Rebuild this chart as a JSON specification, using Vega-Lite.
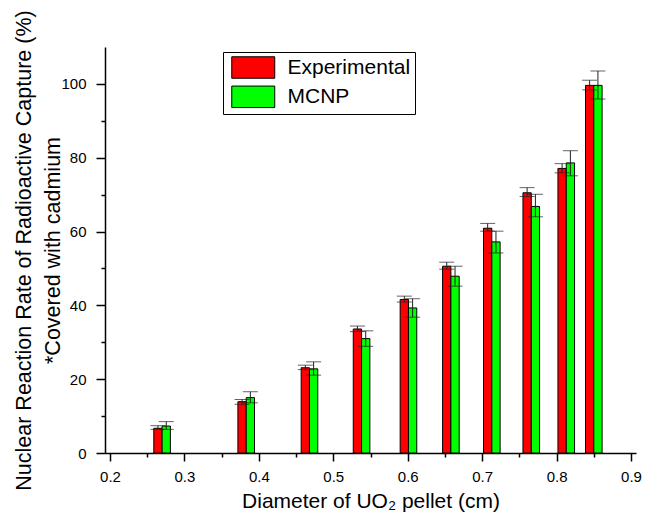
{
  "$schema": "https://vega.github.io/schema/vega-lite/v6.json",
  "width": 531,
  "height": 406,
  "autosize": {"type": "none"},
  "padding": {"left": 105, "top": 47, "right": 21, "bottom": 61},
  "background": "white",
  "config": {
    "view": {"stroke": null},
    "font": "Liberation Sans",
    "axis": {"labelFont": "Liberation Sans", "titleFont": "Liberation Sans", "labelColor": "black", "titleColor": "black", "titleFontWeight": "normal", "domainColor": "black", "tickColor": "black", "domainWidth": 1.5, "tickWidth": 1.5, "grid": false}
  },
  "data": {
    "values": [
      {"d": 0.270, "series": "Experimental", "value": 6.7, "lo": 6.4, "hi": 7.4},
      {"d": 0.270, "series": "MCNP", "value": 7.3, "lo": 6.4, "hi": 8.5},
      {"d": 0.383, "series": "Experimental", "value": 13.9, "lo": 13.2, "hi": 14.5},
      {"d": 0.383, "series": "MCNP", "value": 15.0, "lo": 13.6, "hi": 16.6},
      {"d": 0.468, "series": "Experimental", "value": 23.1, "lo": 22.6, "hi": 23.8},
      {"d": 0.468, "series": "MCNP", "value": 22.8, "lo": 21.1, "hi": 24.7},
      {"d": 0.538, "series": "Experimental", "value": 33.6, "lo": 32.9, "hi": 34.4},
      {"d": 0.538, "series": "MCNP", "value": 31.0, "lo": 28.9, "hi": 33.1},
      {"d": 0.601, "series": "Experimental", "value": 41.6, "lo": 40.9, "hi": 42.5},
      {"d": 0.601, "series": "MCNP", "value": 39.3, "lo": 36.8, "hi": 41.8},
      {"d": 0.658, "series": "Experimental", "value": 50.6, "lo": 49.8, "hi": 51.7},
      {"d": 0.658, "series": "MCNP", "value": 47.9, "lo": 45.2, "hi": 50.6},
      {"d": 0.713, "series": "Experimental", "value": 60.9, "lo": 60.1, "hi": 62.2},
      {"d": 0.713, "series": "MCNP", "value": 57.2, "lo": 54.2, "hi": 60.1},
      {"d": 0.766, "series": "Experimental", "value": 70.5, "lo": 69.5, "hi": 71.9},
      {"d": 0.766, "series": "MCNP", "value": 66.8, "lo": 64.0, "hi": 70.1},
      {"d": 0.813, "series": "Experimental", "value": 77.1, "lo": 75.9, "hi": 78.4},
      {"d": 0.813, "series": "MCNP", "value": 78.6, "lo": 75.1, "hi": 81.9},
      {"d": 0.850, "series": "Experimental", "value": 99.6, "lo": 98.4, "hi": 101.0},
      {"d": 0.850, "series": "MCNP", "value": 99.6, "lo": 95.9, "hi": 103.5}
    ]
  },
  "encoding": {
    "x": {
      "field": "d", "type": "quantitative",
      "scale": {"domain": [0.2, 0.9], "nice": false, "zero": false},
      "axis": {
        "title": "Diameter of UO₂ pellet (cm)",
        "titleFontSize": 21, "titlePadding": 6,
        "values": [0.2, 0.25, 0.3, 0.35, 0.4, 0.45, 0.5, 0.55, 0.6, 0.65, 0.7, 0.75, 0.8, 0.85, 0.9],
        "labelExpr": "round(datum.value*100) % 10 == 0 ? format(datum.value, '.1f') : ''",
        "labelFontSize": 15, "labelPadding": 8, "labelFlush": false,
        "tickSize": {"condition": {"test": "round(datum.value*100) % 10 == 0", "value": 8}, "value": 4}
      }
    },
    "y": {
      "field": "value", "type": "quantitative",
      "scale": {"domain": [0, 110], "nice": false},
      "axis": {
        "title": ["Nuclear Reaction Rate of Radioactive Capture (%)", "*Covered with cadmium"],
        "titleFontSize": 21.5, "titleLineHeight": 29, "titleX": -70,
        "values": [0, 10, 20, 30, 40, 50, 60, 70, 80, 90, 100],
        "labelExpr": "datum.value % 20 == 0 ? datum.label : ''",
        "labelFontSize": 15, "labelPadding": 10, "labelFlush": false,
        "tickSize": {"condition": {"test": "datum.value % 20 == 0", "value": 9}, "value": 4}
      }
    }
  },
  "layer": [
    {
      "transform": [{"filter": "datum.series == 'Experimental'"}],
      "mark": {"type": "bar", "size": 8.3, "xOffset": -4.15, "stroke": "black", "strokeWidth": 1},
      "encoding": {
        "color": {
          "field": "series", "type": "nominal",
          "scale": {"domain": ["Experimental", "MCNP"], "range": ["#ff0000", "#00ff00"]},
          "legend": {
            "orient": "none", "legendX": 118, "legendY": 5, "title": null,
            "symbolType": "M-2,-1H2V1H-2Z", "symbolSize": 462,
            "symbolOffset": 14.75,
            "symbolStrokeColor": "black", "symbolStrokeWidth": 1,
            "labelFont": "Liberation Sans", "labelFontSize": 21, "labelColor": "black", "labelOffset": 22.75,
            "strokeColor": "black", "fillColor": "white", "padding": 4, "rowPadding": 2.3
          }
        }
      }
    },
    {
      "transform": [{"filter": "datum.series == 'MCNP'"}],
      "mark": {"type": "bar", "size": 8.3, "xOffset": 4.15, "stroke": "black", "strokeWidth": 1},
      "encoding": {"color": {"field": "series", "type": "nominal"}}
    },
    {
      "transform": [{"filter": "datum.series == 'Experimental'"}],
      "mark": {"type": "rule", "xOffset": -4.15, "color": "#222", "strokeWidth": 1},
      "encoding": {"y": {"field": "lo", "type": "quantitative"}, "y2": {"field": "hi"}}
    },
    {
      "transform": [{"filter": "datum.series == 'MCNP'"}],
      "mark": {"type": "rule", "xOffset": 4.15, "color": "#222", "strokeWidth": 1},
      "encoding": {"y": {"field": "lo", "type": "quantitative"}, "y2": {"field": "hi"}}
    },
    {
      "transform": [{"filter": "datum.series == 'Experimental'"}],
      "mark": {"type": "tick", "orient": "horizontal", "xOffset": -4.15, "size": 15, "thickness": 1, "color": "#222"},
      "encoding": {"y": {"field": "lo", "type": "quantitative"}}
    },
    {
      "transform": [{"filter": "datum.series == 'Experimental'"}],
      "mark": {"type": "tick", "orient": "horizontal", "xOffset": -4.15, "size": 15, "thickness": 1, "color": "#222"},
      "encoding": {"y": {"field": "hi", "type": "quantitative"}}
    },
    {
      "transform": [{"filter": "datum.series == 'MCNP'"}],
      "mark": {"type": "tick", "orient": "horizontal", "xOffset": 4.15, "size": 15, "thickness": 1, "color": "#222"},
      "encoding": {"y": {"field": "lo", "type": "quantitative"}}
    },
    {
      "transform": [{"filter": "datum.series == 'MCNP'"}],
      "mark": {"type": "tick", "orient": "horizontal", "xOffset": 4.15, "size": 15, "thickness": 1, "color": "#222"},
      "encoding": {"y": {"field": "hi", "type": "quantitative"}}
    }
  ]
}
